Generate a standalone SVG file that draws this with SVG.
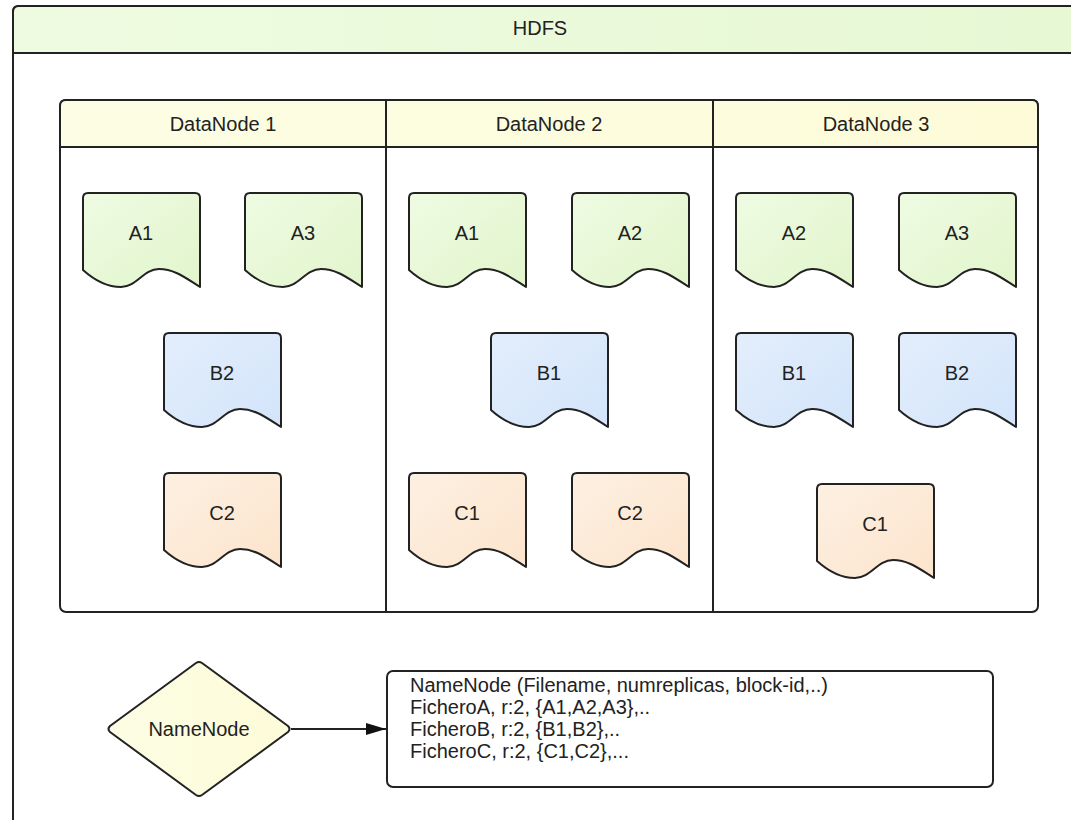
<svg xmlns="http://www.w3.org/2000/svg" width="1071" height="820" viewBox="0 0 1071 820">
<defs>
<style>
text{font-family:"Liberation Sans",Arial,sans-serif;font-size:20px;fill:#222}
.c{text-anchor:middle}
.ln{fill:none;stroke:#222;stroke-width:2}
.doc{stroke:#222;stroke-width:2;stroke-linejoin:round}
.g{fill:url(#gG)}
.b{fill:url(#gB)}
.o{fill:url(#gO)}
</style>
<linearGradient id="gG" x1="0" y1="0" x2="1" y2="1"><stop offset="0" stop-color="#eefbe2"/><stop offset="1" stop-color="#e2f5cc"/></linearGradient>
<linearGradient id="gB" x1="0" y1="0" x2="1" y2="1"><stop offset="0" stop-color="#e3eefc"/><stop offset="1" stop-color="#d3e4fa"/></linearGradient>
<linearGradient id="gO" x1="0" y1="0" x2="1" y2="1"><stop offset="0" stop-color="#fdf0e2"/><stop offset="1" stop-color="#fce4cc"/></linearGradient>
<linearGradient id="gH" x1="0" y1="0" x2="1" y2="0"><stop offset="0" stop-color="#eefbe0"/><stop offset="1" stop-color="#e6f8d4"/></linearGradient>
<linearGradient id="gD" x1="0" y1="0" x2="1" y2="0"><stop offset="0" stop-color="#fcfde4"/><stop offset="1" stop-color="#fdfbd8"/></linearGradient>
<path id="docShape" d="M5,0 H112 Q117,0 117,5 V94 C104,86 92,76 76,76 C60,76 54,94 38,94 C22,94 10,86 0,77 V5 Q0,0 5,0 Z"/>
<marker id="arr" viewBox="0 0 20 12" refX="20" refY="6" markerWidth="20" markerHeight="12" markerUnits="userSpaceOnUse" orient="auto"><path d="M0,0 L20,6 L0,12 Z" fill="#111"/></marker>
</defs>

<g id="hdfs">
<path d="M13,830 V12 Q13,6 19,6 H1090 V830 Z" fill="#fff" stroke="#222" stroke-width="2"/>
<path d="M13,53 V12 Q13,6 19,6 H1090 V53 Z" fill="url(#gH)" stroke="#222" stroke-width="2"/>
<text class="c" x="540" y="35">HDFS</text>
</g>

<g id="datanodes">
<rect x="60" y="100" width="978" height="512" rx="6" fill="#fff" stroke="#222" stroke-width="2"/>
<path d="M60,147 V106 Q60,100 66,100 H1032 Q1038,100 1038,106 V147 Z" fill="url(#gD)" stroke="#222" stroke-width="2"/>
<line class="ln" x1="386" y1="100" x2="386" y2="612"/>
<line class="ln" x1="713" y1="100" x2="713" y2="612"/>
</g>

<g id="datanode1">
<text class="c" x="223" y="131">DataNode 1</text>
<g id="dn1-a1" transform="translate(83,193)"><use href="#docShape" class="doc g"/><text class="c" x="58" y="47">A1</text></g>
<g id="dn1-a3" transform="translate(245,193)"><use href="#docShape" class="doc g"/><text class="c" x="58" y="47">A3</text></g>
<g id="dn1-b2" transform="translate(164,333)"><use href="#docShape" class="doc b"/><text class="c" x="58" y="47">B2</text></g>
<g id="dn1-c2" transform="translate(164,473)"><use href="#docShape" class="doc o"/><text class="c" x="58" y="47">C2</text></g>
</g>

<g id="datanode2">
<text class="c" x="549" y="131">DataNode 2</text>
<g id="dn2-a1" transform="translate(409,193)"><use href="#docShape" class="doc g"/><text class="c" x="58" y="47">A1</text></g>
<g id="dn2-a2" transform="translate(572,193)"><use href="#docShape" class="doc g"/><text class="c" x="58" y="47">A2</text></g>
<g id="dn2-b1" transform="translate(491,333)"><use href="#docShape" class="doc b"/><text class="c" x="58" y="47">B1</text></g>
<g id="dn2-c1" transform="translate(409,473)"><use href="#docShape" class="doc o"/><text class="c" x="58" y="47">C1</text></g>
<g id="dn2-c2" transform="translate(572,473)"><use href="#docShape" class="doc o"/><text class="c" x="58" y="47">C2</text></g>
</g>

<g id="datanode3">
<text class="c" x="876" y="131">DataNode 3</text>
<g id="dn3-a2" transform="translate(736,193)"><use href="#docShape" class="doc g"/><text class="c" x="58" y="47">A2</text></g>
<g id="dn3-a3" transform="translate(899,193)"><use href="#docShape" class="doc g"/><text class="c" x="58" y="47">A3</text></g>
<g id="dn3-b1" transform="translate(736,333)"><use href="#docShape" class="doc b"/><text class="c" x="58" y="47">B1</text></g>
<g id="dn3-b2" transform="translate(899,333)"><use href="#docShape" class="doc b"/><text class="c" x="58" y="47">B2</text></g>
<g id="dn3-c1" transform="translate(817,484)"><use href="#docShape" class="doc o"/><text class="c" x="58" y="47">C1</text></g>
</g>

<g id="namenode">
<path d="M196,663 Q199,661 202,663 L288,726 Q291,729 288,732 L202,795 Q199,797 196,795 L110,732 Q107,729 110,726 Z" fill="url(#gD)" stroke="#222" stroke-width="2" stroke-linejoin="round"/>
<text class="c" x="199" y="736">NameNode</text>
</g>

<g id="metadata">
<rect x="387" y="671" width="606" height="116" rx="6" fill="#fff" stroke="#222" stroke-width="2"/>
<text x="410" y="692">NameNode (Filename, numreplicas, block-id,..)</text>
<text x="410" y="714">FicheroA, r:2, {A1,A2,A3},..</text>
<text x="410" y="736">FicheroB, r:2, {B1,B2},..</text>
<text x="410" y="758">FicheroC, r:2, {C1,C2},...</text>
</g>

<g id="connectors">
<line x1="291" y1="729" x2="386" y2="729" stroke="#222" stroke-width="2" marker-end="url(#arr)"/>
</g>
</svg>
